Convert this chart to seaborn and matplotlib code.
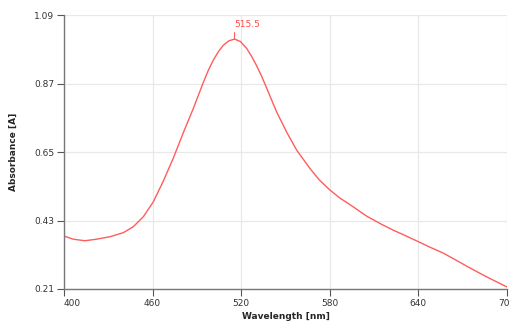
import pandas as pd
import numpy as np
import seaborn as sns
import matplotlib.pyplot as plt

# values
wavelength = [400, 406.3, 414.2, 422.1, 431.2, 440.2, 446.9, 453.7, 460.5, 467.2,
              474.0, 480.8, 487.6, 494.3, 497.7, 501.1, 504.5, 507.9, 511.5, 515.5,
              519.5, 523.7, 527.0, 530.5, 534.0, 537.3, 544.0, 550.8, 557.6, 566.6,
              573.0, 580.1, 586.9, 593.7, 605, 615, 623, 630, 640, 648,
              657, 665, 672.5, 685, 699.8]
absorbance = [0.380, 0.370, 0.365, 0.370, 0.378, 0.391, 0.410, 0.442, 0.490, 0.556,
              0.630, 0.712, 0.790, 0.873, 0.912, 0.945, 0.972, 0.993, 1.007, 1.013,
              1.005, 0.983, 0.958, 0.927, 0.892, 0.855, 0.779, 0.714, 0.656, 0.597,
              0.560, 0.528, 0.502, 0.481, 0.444, 0.418, 0.399, 0.384, 0.362, 0.344,
              0.325, 0.304, 0.284, 0.252, 0.217]
xticks = [400, 460, 520, 580, 640, 700]
yticks = [0.21, 0.43, 0.65, 0.87, 1.09]
peak_label = "515.5"

data = pd.DataFrame({"Wavelength": wavelength, "Absorbance": absorbance})

sns.set_style("white")
plt.rcParams['font.family'] = ['DejaVu Sans']

fig = plt.figure(figsize=(5.09, 3.21), dpi=100)
ax = fig.add_axes([0.1257, 0.0997, 0.8703, 0.8533])

sns.lineplot(x="Wavelength", y="Absorbance", data=data, ax=ax,
             color="#ff5c5c", linewidth=1.0)

ax.set_xlim(400, 700)
ax.set_ylim(0.21, 1.09)
ax.set_xticks(xticks)
ax.set_yticks(yticks)
ax.set_xticklabels([str(t) for t in xticks])
ax.set_yticklabels([f"{t:.2f}" for t in yticks])
ax.grid(True, color="#e8e8e8", linewidth=0.9)
ax.set_axisbelow(True)

for s in ["top", "right"]:
    ax.spines[s].set_visible(False)
for s in ["left", "bottom"]:
    ax.spines[s].set_color("#777777")
    ax.spines[s].set_linewidth(1.0)

ax.tick_params(axis="both", direction="out", length=5, width=0.8,
               color="#555555", labelsize=6.5, labelcolor="#333333", pad=2,
               left=True, bottom=True)
ax.get_xticklabels()[0].set_horizontalalignment("left")

ax.set_xlabel("Wavelength [nm]", fontsize=6.5, fontweight="bold", labelpad=3)
ax.set_ylabel("Absorbance [A]", fontsize=6.5, fontweight="bold", labelpad=12)

# peak marker
i = int(np.argmax(absorbance))
ax.annotate(peak_label, xy=(wavelength[i], absorbance[i]), xytext=(0, 7),
            textcoords="offset points", ha="left", va="bottom",
            fontsize=6.5, color="#ff4d4d",
            arrowprops=dict(arrowstyle="-", color="#ff5c5c", lw=0.8,
                            relpos=(0, 0), shrinkA=0, shrinkB=0))

fig.savefig("out.png", dpi=100)
